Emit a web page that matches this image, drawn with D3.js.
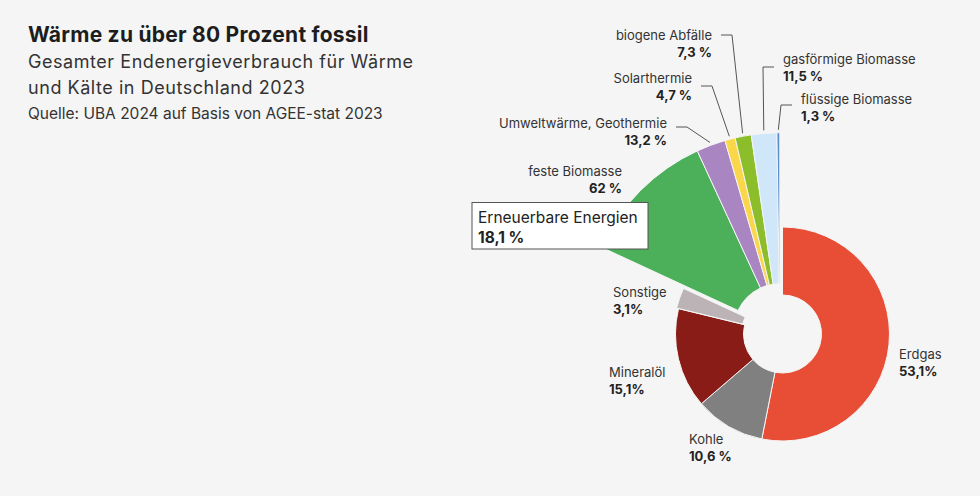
<!DOCTYPE html>
<html>
<head>
<meta charset="utf-8">
<script src="https://cdn.jsdelivr.net/npm/d3@7"></script>
<style>
  html, body { margin: 0; padding: 0; background: #f5f5f5; }
  svg { display: block; font-family: Inter, "Noto Sans", sans-serif; }
</style>
</head>
<body>
<div id="chart"></div>
<script>
// main shares (percent of total)
const mainNames = ["Erdgas", "Kohle", "Mineralöl", "Sonstige", "Erneuerbare Energien"];
const mainValues = [53.1, 10.6, 15.1, 3.1, 18.1];
const mainLabels = ["53,1%", "10,6 %", "15,1%", "3,1%", "18,1 %"];

// split of the renewables (percent of renewables)
const renNames = ["feste Biomasse", "Umweltwärme, Geothermie", "Solarthermie", "biogene Abfälle", "gasförmige Biomasse", "flüssige Biomasse"];
const renValues = [62, 13.2, 4.7, 7.3, 11.5, 1.3];
const renLabels = ["62 %", "13,2 %", "4,7 %", "7,3 %", "11,5 %", "1,3 %"];

const mainColors = ["#e84e36", "#808080", "#8a1c18", "#bcb3b6", "#4caf5a"];
const renColors = ["#4caf5a", "#a985c2", "#fad64a", "#8cbd2a", "#cfe7f8", "#5b8ed0"];

const width = 980, height = 496;
const cx = 782.5, cy = 334;

const svg = d3.select("#chart").append("svg")
    .attr("width", width)
    .attr("height", height);

svg.append("rect").attr("width", width).attr("height", height).attr("fill", "#f5f5f5");

// header
const head = svg.append("g").attr("fill", "#1d1d1d");
head.append("text").attr("x", 28).attr("y", 42)
    .style("font-size", "21px").style("font-weight", 700).style("letter-spacing", "0.25px")
    .text("Wärme zu über 80 Prozent fossil");
head.append("text").attr("x", 28).attr("y", 68)
    .style("font-size", "18px").style("letter-spacing", "0.55px").attr("fill", "#333")
    .text("Gesamter Endenergieverbrauch für Wärme");
head.append("text").attr("x", 28).attr("y", 94)
    .style("font-size", "18px").style("letter-spacing", "0.55px").attr("fill", "#333")
    .text("und Kälte in Deutschland 2023");
head.append("text").attr("x", 28).attr("y", 118.5)
    .style("font-size", "15.5px").attr("fill", "#333")
    .text("Quelle: UBA 2024 auf Basis von AGEE-stat 2023");

const pie = d3.pie().sort(null).startAngle(0).endAngle(2 * Math.PI);
const mainArcs = pie(mainValues);

const g = svg.append("g").attr("transform", `translate(${cx},${cy})`);

const arcMain = d3.arc().innerRadius(39).outerRadius(107);

// fossil slices (renewables get their own, bigger ring)
mainArcs.slice(0, 4).forEach((d, i) => {
    const off = i === 3 ? 2 : 0;
    const m = (d.startAngle + d.endAngle) / 2;
    g.append("path")
        .attr("transform", `translate(${Math.sin(m) * off},${-Math.cos(m) * off})`)
        .attr("d", arcMain(d))
        .attr("fill", mainColors[i])
        .attr("stroke", "#f5f5f5")
        .attr("stroke-width", 1);
});

// renewables, pulled out
const ren = mainArcs[4];
const renMid = (ren.startAngle + ren.endAngle) / 2;
const renOff = 5;
const ox = Math.sin(renMid) * renOff, oy = -Math.cos(renMid) * renOff;
const renPie = d3.pie().sort(null).startAngle(ren.startAngle).endAngle(ren.endAngle);
const renArcs = renPie(renValues);
const arcRen = d3.arc().innerRadius(46).outerRadius(197);

const gr = g.append("g").attr("transform", `translate(${ox},${oy})`);
gr.selectAll("path")
    .data(renArcs)
    .join("path")
    .attr("d", arcRen)
    .attr("fill", (d, i) => renColors[i])
    .attr("stroke", "#f5f5f5")
    .attr("stroke-width", 1);

// label layout: x, y of first line centre, anchor, y of leader knee
const renLayout = [
    { x: 622, y: 171, anchor: "end", lineY: null },
    { x: 667, y: 123, anchor: "end", lineY: 127 },
    { x: 692, y: 78, anchor: "end", lineY: 86 },
    { x: 712, y: 35, anchor: "end", lineY: 35 },
    { x: 783, y: 59, anchor: "start", lineY: 67 },
    { x: 801, y: 99, anchor: "start", lineY: 105 }
];

const labels = svg.append("g");

renArcs.forEach((d, i) => {
    const L = renLayout[i];
    const t = labels.append("text").attr("text-anchor", L.anchor).attr("fill", "#333");
    t.append("tspan").attr("x", L.x).attr("y", L.y + 5)
        .style("font-size", "13px").text(renNames[i]);
    t.append("tspan").attr("x", L.x).attr("y", L.y + 21.5)
        .style("font-size", "13px").style("font-weight", 700).attr("fill", "#222")
        .text(renLabels[i]);
    if (L.lineY !== null) {
        const m = (d.startAngle + d.endAngle) / 2;
        const r = 200;
        const px = cx + ox + Math.sin(m) * r, py = cy + oy - Math.cos(m) * r;
        const dir = L.anchor === "end" ? 1 : -1;
        const x1 = L.x + dir * 9, x2 = L.x + dir * 20;
        labels.append("path")
            .attr("d", `M${x1},${L.lineY}L${x2},${L.lineY}L${px},${py}`)
            .attr("fill", "none")
            .attr("stroke", "#555")
            .attr("stroke-width", 1);
    }
});

// fossil labels
const mainLayout = [
    { x: 899, y: 354 },
    { x: 689, y: 439 },
    { x: 609, y: 372 },
    { x: 613, y: 292 }
];
mainLayout.forEach((L, i) => {
    const t = labels.append("text").attr("fill", "#333");
    t.append("tspan").attr("x", L.x).attr("y", L.y + 5)
        .style("font-size", "13px").text(mainNames[i]);
    t.append("tspan").attr("x", L.x).attr("y", L.y + 22)
        .style("font-size", "13px").style("font-weight", 700).attr("fill", "#222")
        .text(mainLabels[i]);
});

// renewables box
const box = svg.append("g");
box.append("rect")
    .attr("x", 472).attr("y", 202.5)
    .attr("width", 176).attr("height", 46.5)
    .attr("fill", "#fff")
    .attr("stroke", "#555")
    .attr("stroke-width", 1);
const bt = box.append("text").attr("fill", "#222").style("font-size", "15.5px");
bt.append("tspan").attr("x", 478).attr("y", 223).text(mainNames[4]);
bt.append("tspan").attr("x", 478).attr("y", 243).style("font-weight", 700).text(mainLabels[4]);
</script>
</body>
</html>
